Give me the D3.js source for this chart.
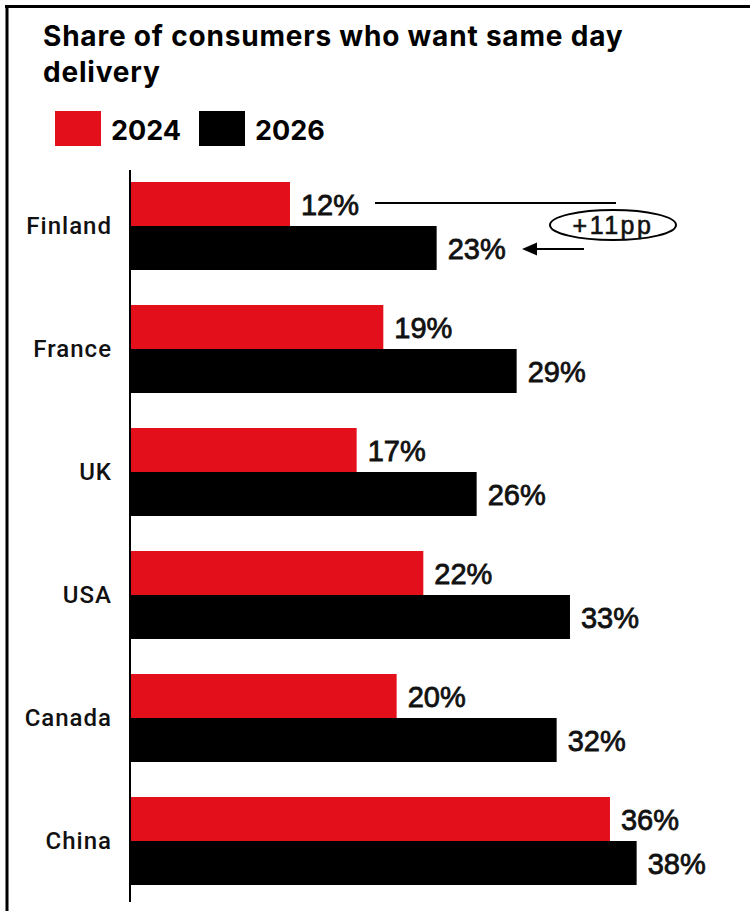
<!DOCTYPE html>
<html>
<head>
<meta charset="utf-8">
<script src="https://cdn.jsdelivr.net/npm/d3@7"></script>
<style>
  body { margin: 0; background: #fff; }
  svg { display: block; }
</style>
</head>
<body>
<div id="chart"></div>
<script>
const countries = ["Finland", "France", "UK", "USA", "Canada", "China"];
const years = ["2024", "2026"];
const share2024 = [12, 19, 17, 22, 20, 36];
const share2026 = [23, 29, 26, 33, 32, 38];
const colors = ["#e3101b", "#000000"];

const width = 750;
const height = 911;

const svg = d3
  .select("#chart")
  .append("svg")
  .attr("width", width)
  .attr("height", height);

// frame (top + left only)
svg.append("line").attr("x1", 5).attr("x2", width).attr("y1", 6.5).attr("y2", 6.5)
  .attr("stroke", "#000").attr("stroke-width", 3);
svg.append("line").attr("x1", 7).attr("x2", 7).attr("y1", 5).attr("y2", height)
  .attr("stroke", "#000").attr("stroke-width", 3);

// title
const title = svg.append("text")
  .attr("x", 43)
  .attr("font-family", "Inter, 'Liberation Sans', sans-serif")
  .attr("font-weight", 700)
  .attr("font-size", 28)
  .attr("letter-spacing", 0.8)
  .attr("fill", "#000");
title.append("tspan").attr("x", 43).attr("y", 46).text("Share of consumers who want same day");
title.append("tspan").attr("x", 43).attr("y", 82).text("delivery");

// legend
const legend = svg.append("g").attr("transform", "translate(55,111)");
const legendX = [0, 144];
years.forEach((yr, i) => {
  const g = legend.append("g").attr("transform", `translate(${legendX[i]},0)`);
  g.append("rect").attr("width", 46).attr("height", 35).attr("fill", colors[i]);
  g.append("text")
    .attr("x", 56)
    .attr("y", 29)
    .attr("font-family", "Inter, 'Liberation Sans', sans-serif")
    .attr("font-weight", 700)
    .attr("font-size", 27)
    .text(yr);
});

// scales
const x = d3.scaleLinear().domain([0, 40]).range([130, 130 + 533.3]);
const y = d3.scaleBand().domain(countries).range([182, 885]).paddingInner(35 / 123).paddingOuter(0);
const ySub = d3.scaleBand().domain(years).range([0, y.bandwidth()]);

const rows = countries.map((c, i) => ({ country: c, values: [share2024[i], share2026[i]] }));

const groups = svg.selectAll("g.row")
  .data(rows)
  .enter()
  .append("g")
  .attr("class", "row")
  .attr("transform", (d) => `translate(0,${y(d.country)})`);

groups.selectAll("rect")
  .data((d) => d.values.map((v, i) => ({ v, yr: years[i], i })))
  .enter()
  .append("rect")
  .attr("x", x(0))
  .attr("y", (d) => ySub(d.yr))
  .attr("width", (d) => x(d.v) - x(0))
  .attr("height", ySub.bandwidth())
  .attr("fill", (d) => colors[d.i]);

groups.selectAll("text.val")
  .data((d) => d.values.map((v, i) => ({ v, yr: years[i], i })))
  .enter()
  .append("text")
  .attr("class", "val")
  .attr("x", (d) => x(d.v) + 11)
  .attr("y", (d) => ySub(d.yr) + ySub.bandwidth() / 2 + 11)
  .attr("font-family", "'Liberation Sans', Arial, sans-serif")
  .attr("font-size", 29)
  .attr("fill", "#111")
  .attr("stroke", "#111")
  .attr("stroke-width", 0.8)
  .text((d) => d.v + "%");

// category labels
groups.append("text")
  .attr("x", 112)
  .attr("y", y.bandwidth() / 2 + 8)
  .attr("text-anchor", "end")
  .attr("font-family", "Roboto, 'Liberation Sans', sans-serif")
  .attr("font-weight", 500)
  .attr("font-size", 24)
  .attr("letter-spacing", 1)
  .attr("fill", "#111")
  .text((d) => d.country);

// axis line
svg.append("line")
  .attr("x1", x(0)).attr("x2", x(0))
  .attr("y1", 170).attr("y2", 902)
  .attr("stroke", "#000").attr("stroke-width", 2);

// annotation: +11pp for Finland
const fy = y("Finland");
const y1 = fy + ySub("2024") + ySub.bandwidth() / 2;
const y2 = fy + ySub("2026") + ySub.bandwidth() / 2;
const ann = svg.append("g");
ann.append("line")
  .attr("x1", x(share2024[0]) + 85).attr("x2", 616)
  .attr("y1", y1 - 1).attr("y2", y1 - 1)
  .attr("stroke", "#000").attr("stroke-width", 2);
ann.append("ellipse")
  .attr("cx", 613).attr("cy", 225).attr("rx", 63).attr("ry", 15)
  .attr("fill", "#fff").attr("stroke", "#000").attr("stroke-width", 2);
ann.append("text")
  .attr("x", 613).attr("y", 234)
  .attr("text-anchor", "middle")
  .attr("font-family", "'Liberation Sans', Arial, sans-serif")
  .attr("font-size", 25)
  .attr("letter-spacing", 2.5)
  .attr("fill", "#111")
  .attr("stroke", "#111")
  .attr("stroke-width", 0.6)
  .text("+11pp");
ann.append("line")
  .attr("x1", 584).attr("x2", 534)
  .attr("y1", y2 + 1).attr("y2", y2 + 1)
  .attr("stroke", "#000").attr("stroke-width", 2);
ann.append("path")
  .attr("d", `M522,${y2 + 1} L537,${y2 - 5.5} L537,${y2 + 7.5} Z`)
  .attr("fill", "#000");
</script>
</body>
</html>
